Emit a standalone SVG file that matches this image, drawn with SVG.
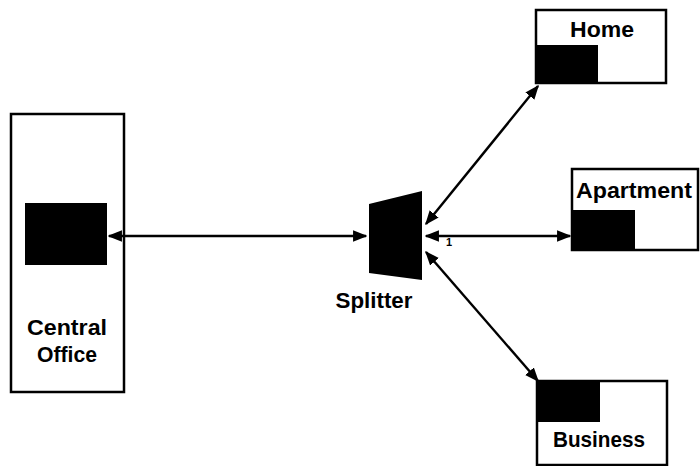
<svg xmlns="http://www.w3.org/2000/svg" width="700" height="466" viewBox="0 0 700 466">
<style>
.box{fill:#fff;stroke:#000;stroke-width:2.5}
.blk{fill:#000}
.lbl{font-family:"Liberation Sans",Arial,sans-serif;font-size:22px;font-weight:bold;fill:#000;text-anchor:middle}
.con{stroke:#000;stroke-width:2.4;fill:none;marker-start:url(#ah);marker-end:url(#ah)}
</style>
<defs>
<marker id="ah" viewBox="0 0 10 10" refX="9" refY="5" markerWidth="6" markerHeight="6" orient="auto-start-reverse" markerUnits="strokeWidth">
<path d="M0,1 L10,5 L0,9 Z" fill="#000"/>
</marker>
</defs>
<rect width="700" height="466" fill="#fff"/>
<g id="central-office">
<rect class="box" x="11" y="114" width="113" height="278"/>
<rect class="blk" x="25" y="203" width="82" height="62"/>
<text class="lbl" x="67" y="335" textLength="80" lengthAdjust="spacingAndGlyphs">Central</text>
<text class="lbl" x="67" y="362" textLength="60" lengthAdjust="spacingAndGlyphs">Office</text>
</g>
<g id="splitter">
<polygon class="blk" points="369,204 422,191 422,280 369,273"/>
<text class="lbl" x="374" y="308" textLength="77" lengthAdjust="spacingAndGlyphs">Splitter</text>
<text x="446" y="246" font-family="Liberation Sans,Arial,sans-serif" font-size="11" font-weight="bold" fill="#000">1</text>
</g>
<g id="home">
<rect class="box" x="536" y="10" width="130" height="73"/>
<rect class="blk" x="536" y="45" width="62" height="38"/>
<text class="lbl" x="602" y="37" textLength="64" lengthAdjust="spacingAndGlyphs">Home</text>
</g>
<g id="apartment">
<rect class="box" x="572" y="169" width="126" height="81"/>
<rect class="blk" x="572" y="210" width="63" height="40"/>
<text class="lbl" x="634" y="198" textLength="116" lengthAdjust="spacingAndGlyphs">Apartment</text>
</g>
<g id="business">
<rect class="box" x="537" y="381" width="130" height="84"/>
<rect class="blk" x="537" y="381" width="63" height="41"/>
<text class="lbl" x="599" y="447" textLength="92" lengthAdjust="spacingAndGlyphs">Business</text>
</g>
<g id="connectors">
<line class="con" x1="109" y1="236" x2="366" y2="236"/>
<line class="con" x1="426" y1="224" x2="538" y2="86"/>
<line class="con" x1="426" y1="236" x2="570" y2="236"/>
<line class="con" x1="426" y1="252" x2="538" y2="381"/>
</g>
</svg>
